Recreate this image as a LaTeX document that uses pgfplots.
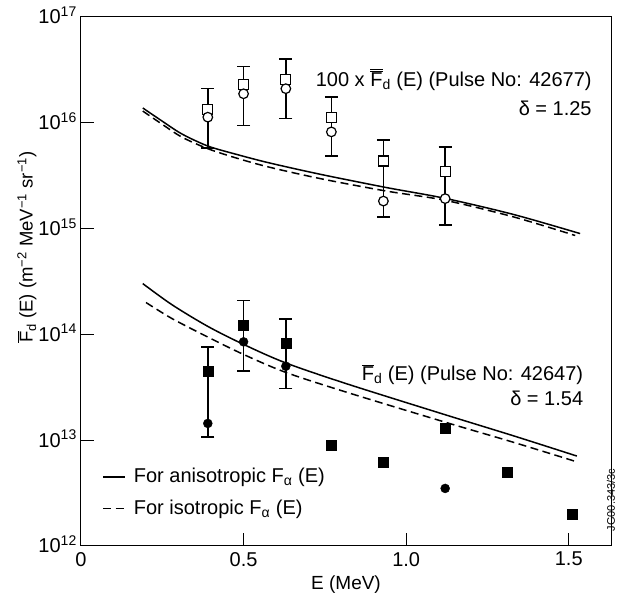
\documentclass[border=0pt]{standalone}
\usepackage{pgfplots}
\pgfplotsset{compat=1.18}
\usepackage{fontspec}
\setmainfont{Liberation Sans}
\newcommand{\Fbar}{$\overline{\mbox{F}}$}
\newcommand{\Fbarbar}{$\overline{\overline{\mbox{F}}}$}
\begin{document}
\fontsize{20}{24}\selectfont
\begin{tikzpicture}
\useasboundingbox (-81pt,-53pt) rectangle (542pt,546pt);
\begin{axis}[
  at={(0pt,0pt)}, anchor=south west,
  width=530pt, height=529pt, scale only axis,
  xmin=0, xmax=1.63, ymin=1e12, ymax=1e17, ymode=log,
  clip mode=individual,
  axis line style={line width=1pt},
  xtick={0,0.5,1.0,1.5}, xticklabels={0,0.5,1.0,1.5},
  ytick={1e12,1e13,1e14,1e15,1e16,1e17},
  yticklabels={10\textsuperscript{12},10\textsuperscript{13},10\textsuperscript{14},10\textsuperscript{15},10\textsuperscript{16},10\textsuperscript{17}},
  yminorticks=false,
  tick align=inside, xtick pos=left, ytick pos=left,
  major tick length=13pt,
  tick style={line width=1pt, black},
  yticklabel style={anchor=base east, inner sep=0pt, xshift=-4pt, yshift=-7pt},
  xticklabel style={anchor=north, inner sep=0pt, yshift=-6pt},
  xlabel={E (MeV)},
  ylabel={\Fbar\textsubscript{d} (E) (m\textsuperscript{−2} MeV\textsuperscript{−1} sr\textsuperscript{−1})},
  every axis x label/.style={at={(axis description cs:0.5,0)}, anchor=center, yshift=-39pt, font=\fontsize{19}{23}\selectfont},
  every axis y label/.style={at={(axis description cs:-0.102,0.565)}, rotate=90, anchor=center, font=\fontsize{18.5}{22}\selectfont},
  legend style={draw=none, fill=none, at={(axis description cs:0.04,0.149)}, anchor=north west, row sep=12pt, inner sep=0pt, nodes={inner sep=1pt}},
  legend cell align=left,
  legend image code/.code={\draw[#1] (0pt,0pt) -- (22pt,0pt); \path (29pt,0pt);},
]
% upper curves
\addplot[black, line width=1.5pt, smooth, tension=0.5, forget plot] coordinates {
 (0.19,1.38e16) (0.25,1.035e16) (0.31,7.85e15) (0.39,6.03e15) (0.48,5.01e15) (0.58,4.17e15)
 (0.74,3.24e15) (0.94,2.44e15) (1.12,1.93e15) (1.33,1.36e15) (1.535,8.97e14)};
\addplot[black, line width=1.5pt, smooth, tension=0.5, dash pattern=on 8pt off 4.5pt, forget plot] coordinates {
 (0.19,1.29e16) (0.25,9.66e15) (0.31,7.33e15) (0.39,5.69e15) (0.48,4.62e15) (0.58,3.8e15)
 (0.74,2.95e15) (0.94,2.26e15) (1.12,1.85e15) (1.33,1.29e15) (1.52,8.6e14)};
% lower curves
\addplot[black, line width=1.5pt, smooth, tension=0.5] coordinates {
 (0.19,3.02e14) (0.28,1.905e14) (0.39,1.19e14) (0.50,8.04e13) (0.63,5.37e13)
 (0.82,3.39e13) (1.12,1.74e13) (1.33,1.10e13) (1.525,7.08e12)};
\addlegendentry{For anisotropic F\textsubscript{α} (E)}
\addplot[black, line width=1.5pt, smooth, tension=0.5, dash pattern=on 8pt off 4.5pt] coordinates {
 (0.20,2.0e14) (0.28,1.41e14) (0.39,9.44e13) (0.50,6.46e13) (0.63,4.37e13)
 (0.82,2.82e13) (1.12,1.48e13) (1.33,9.55e12) (1.52,6.31e12)};
\addlegendentry{For isotropic F\textsubscript{α} (E)}
% upper squares with error bars
\addplot[black, only marks, mark=square*, mark size=5pt, mark options={fill=white, draw=black, line width=1.2pt}, forget plot,
  error bars/.cd, y dir=both, y explicit,
  error bar style={line width=1.5pt, black, solid},
  error mark options={rotate=90, mark size=6.5pt, line width=1.5pt, black}]
 coordinates {
 (0.39,1.33e16) += (0,0.77e16) -= (0,0.75e16)
 (0.50,2.32e16) += (0,1.08e16) -= (0,1.38e16)
 (0.63,2.55e16) += (0,1.45e16) -= (0,1.45e16)
 (0.77,1.13e16) += (0,0.62e16) -= (0,0.645e16)
 (0.93,4.35e15) += (0,2.55e15) -= (0,3.06e15)
 (1.12,3.48e15) += (0,2.42e15) -= (0,2.40e15)};
\addplot[black, only marks, mark=*, mark size=4.8pt, mark options={fill=white, draw=black, line width=1.2pt}, forget plot]
 coordinates {(0.39,1.13e16) (0.50,1.88e16) (0.63,2.1e16) (0.77,8.2e15) (0.93,1.82e15) (1.12,1.92e15)};
% lower squares with error bars
\addplot[black, only marks, mark=square*, mark size=5pt, mark options={fill=black, draw=black}, forget plot,
  error bars/.cd, y dir=both, y explicit,
  error bar style={line width=1.5pt, black, solid},
  error mark options={rotate=90, mark size=6.5pt, line width=1.5pt, black}]
 coordinates {
 (0.39,4.45e13) += (0,3.15e13) -= (0,3.38e13)
 (0.50,1.22e14) += (0,0.88e14) -= (0,7.7e13)
 (0.63,8.2e13) += (0,5.8e13) -= (0,5.13e13)};
\addplot[black, only marks, mark=square*, mark size=5pt, mark options={fill=black, draw=black}, forget plot]
 coordinates {(0.77,9.0e12) (0.93,6.2e12) (1.12,1.3e13) (1.31,5.0e12) (1.51,2.0e12)};
\addplot[black, only marks, mark=*, mark size=4.5pt, mark options={fill=black, draw=black}, forget plot]
 coordinates {(0.39,1.44e13) (0.50,8.5e13) (0.63,5.0e13) (1.12,3.5e12)};
% annotations
\node[anchor=east, inner sep=0pt] at (axis cs:1.571,2.54e16) {100 x \Fbarbar\textsubscript{d} (E) (Pulse No: 42677)};
\node[anchor=east, inner sep=0pt] at (axis cs:1.571,1.38e16) {δ = 1.25};
\node[anchor=east, inner sep=0pt] at (axis cs:1.545,4.17e13) {\Fbar\textsubscript{d} (E) (Pulse No: 42647)};
\node[anchor=east, inner sep=0pt] at (axis cs:1.545,2.51e13) {δ = 1.54};
\node[rotate=90, inner sep=0pt, font=\fontsize{11}{12}\selectfont] at (axis description cs:1,0.066) [xshift=11pt] {JG00.343/3c};
\end{axis}
\end{tikzpicture}
\end{document}
